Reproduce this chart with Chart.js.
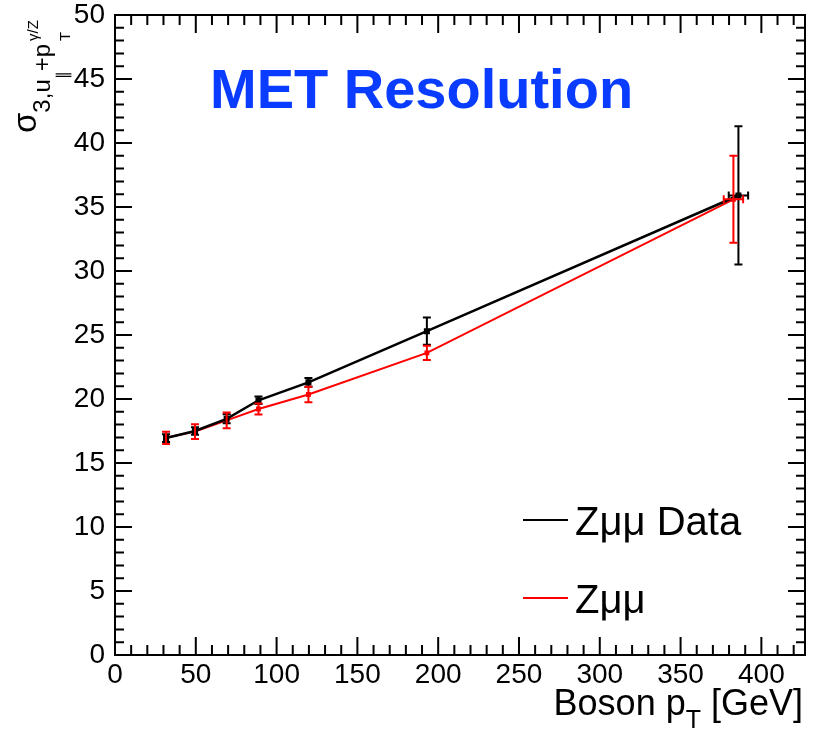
<!DOCTYPE html>
<html>
<head>
<meta charset="utf-8">
<script src="https://cdn.jsdelivr.net/npm/chart.js@4/dist/chart.umd.min.js"></script>
<style>
  html, body { margin: 0; padding: 0; background: #fff; }
  #wrap { width: 821px; height: 734px; }
</style>
</head>
<body>
<div id="wrap"><canvas id="c"></canvas></div>
<script>
// boson pT bin centres (GeV)
const dataX = [31.6, 49.5, 69.1, 88.8, 119.7, 193, 385.8];
const dataY = [16.95, 17.5, 18.45, 19.9, 21.3, 25.3, 35.9];
const dataErr = [0.3, 0.3, 0.35, 0.3, 0.35, 1.07, 5.4];
const dataXErr = [0, 0, 0, 0, 0, 0, 6];

const mcX = [31.6, 49.5, 69.1, 88.8, 119.7, 193, 382.7];
const mcY = [16.97, 17.45, 18.33, 19.22, 20.35, 23.6, 35.6];
const mcErr = [0.48, 0.57, 0.62, 0.43, 0.6, 0.56, 3.4];
const mcXErr = [0, 0, 0, 0, 0, 0, 6];

const xTicks = [0, 50, 100, 150, 200, 250, 300, 350, 400];
const yTicks = [0, 5, 10, 15, 20, 25, 30, 35, 40, 45, 50];

const FONT = '"Liberation Sans", Arial, Helvetica, sans-serif';

function toPoints(xs, ys) {
  return xs.map((x, i) => ({ x: x, y: ys[i] }));
}

const errors = [
  { y: dataErr, x: dataXErr },
  { y: mcErr, x: mcXErr }
];

const errorBars = {
  id: "errorBars",
  afterDatasetsDraw(chart) {
    const ctx = chart.ctx;
    const xs = chart.scales.x;
    const ys = chart.scales.y;
    chart.data.datasets.forEach((ds, di) => {
      const err = errors[di];
      ctx.save();
      ctx.strokeStyle = ds.borderColor;
      ctx.lineWidth = 2;
      ds.data.forEach((p, i) => {
        const px = xs.getPixelForValue(p.x);
        const top = ys.getPixelForValue(p.y + err.y[i]);
        const bot = ys.getPixelForValue(p.y - err.y[i]);
        const py = ys.getPixelForValue(p.y);
        ctx.beginPath();
        ctx.moveTo(px, top);
        ctx.lineTo(px, bot);
        ctx.moveTo(px - 4, top);
        ctx.lineTo(px + 4, top);
        ctx.moveTo(px - 4, bot);
        ctx.lineTo(px + 4, bot);
        if (err.x[i] > 0) {
          const l = xs.getPixelForValue(p.x - err.x[i]);
          const r = xs.getPixelForValue(p.x + err.x[i]);
          ctx.moveTo(l, py);
          ctx.lineTo(r, py);
          ctx.moveTo(l, py - 4);
          ctx.lineTo(l, py + 4);
          ctx.moveTo(r, py - 4);
          ctx.lineTo(r, py + 4);
        }
        ctx.stroke();
      });
      ctx.restore();
    });
  }
};

const frame = {
  id: "frame",
  afterDraw(chart) {
    const ctx = chart.ctx;
    const a = chart.chartArea;
    const xs = chart.scales.x;
    const ys = chart.scales.y;
    ctx.save();
    ctx.strokeStyle = "#000";
    ctx.lineWidth = 2;
    ctx.strokeRect(a.left, a.top, a.right - a.left, a.bottom - a.top);
    ctx.beginPath();
    for (let v = 0; v <= xs.max; v += 10) {
      const px = xs.getPixelForValue(v);
      if (px > a.right - 1) break;
      const len = v % 50 === 0 ? 18 : 10;
      ctx.moveTo(px, a.bottom);
      ctx.lineTo(px, a.bottom - len);
      ctx.moveTo(px, a.top);
      ctx.lineTo(px, a.top + len);
    }
    for (let v = 0; v <= ys.max; v += 1) {
      const py = ys.getPixelForValue(v);
      const len = v % 5 === 0 ? 17 : 9;
      ctx.moveTo(a.left, py);
      ctx.lineTo(a.left + len, py);
      ctx.moveTo(a.right, py);
      ctx.lineTo(a.right - len, py);
    }
    ctx.stroke();

    // title
    ctx.fillStyle = "#0a3cff";
    ctx.font = "bold 56px " + FONT;
    ctx.textBaseline = "alphabetic";
    ctx.textAlign = "left";
    ctx.fillText("MET Resolution", 210, 108);

    // legend
    const items = [
      { y: 520, ds: chart.data.datasets[0] },
      { y: 598, ds: chart.data.datasets[1] }
    ];
    items.forEach(it => {
      ctx.strokeStyle = it.ds.borderColor;
      ctx.lineWidth = 2;
      ctx.beginPath();
      ctx.moveTo(523, it.y);
      ctx.lineTo(568, it.y);
      ctx.stroke();
      ctx.fillStyle = "#000";
      ctx.font = "40px " + FONT;
      ctx.fillText(it.ds.label, 575, it.y + 15);
    });

    // x axis title
    ctx.fillStyle = "#000";
    const big = "36px " + FONT;
    const small = "25px " + FONT;
    ctx.font = big;
    const w1 = ctx.measureText("Boson p").width;
    const w3 = ctx.measureText(" [GeV]").width;
    ctx.font = small;
    const w2 = ctx.measureText("T").width;
    let x = 803 - (w1 + w2 + w3);
    ctx.font = big;
    ctx.fillText("Boson p", x, 715);
    x += w1;
    ctx.font = small;
    ctx.fillText("T", x, 728);
    x += w2;
    ctx.font = big;
    ctx.fillText(" [GeV]", x, 715);

    // y axis title
    ctx.translate(36, 133);
    ctx.rotate(-Math.PI / 2);
    let tx = 0;
    const seg = (t, size, dy) => {
      ctx.font = size + "px " + FONT;
      ctx.fillText(t, tx, dy);
      tx += ctx.measureText(t).width;
    };
    seg("\u03c3", 33, 0);
    seg("3,u", 24, 14);
    seg("\u2225", 16, 32);
    seg("+p", 24, 14);
    const t0 = tx + 3;
    tx = t0;
    seg("T", 15, 34);
    tx = t0;
    seg("\u03b3/Z", 15, 2);
    ctx.restore();
  }
};

new Chart(document.getElementById("c"), {
  type: "line",
  data: {
    datasets: [
      {
        label: "Z\u03bc\u03bc Data",
        data: toPoints(dataX, dataY),
        borderColor: "#000000",
        backgroundColor: "#000000",
        borderWidth: 2.5,
        pointStyle: "rect",
        pointRadius: 2.5,
        tension: 0
      },
      {
        label: "Z\u03bc\u03bc",
        data: toPoints(mcX, mcY),
        borderColor: "#ff0000",
        backgroundColor: "#ff0000",
        borderWidth: 2,
        pointStyle: "rect",
        pointRadius: 2,
        tension: 0
      }
    ]
  },
  options: {
    responsive: true,
    maintainAspectRatio: false,
    animation: false,
    layout: { padding: { top: 15, right: 16, left: 0, bottom: 0 } },
    plugins: {
      legend: { display: false },
      tooltip: { enabled: false }
    },
    scales: {
      x: {
        type: "linear",
        min: 0,
        max: 427,
        grid: { display: false, drawTicks: false },
        border: { display: false },
        afterBuildTicks: s => { s.ticks = xTicks.map(v => ({ value: v })); },
        afterFit: s => { s.height = 79; s.paddingLeft = 0; s.paddingRight = 0; },
        ticks: {
          color: "#000",
          padding: 3,
          maxRotation: 0,
          font: { family: FONT, size: 28 }
        }
      },
      y: {
        min: 0,
        max: 50,
        grid: { display: false, drawTicks: false },
        border: { display: false },
        afterBuildTicks: s => { s.ticks = yTicks.map(v => ({ value: v })); },
        afterFit: s => { s.width = 115; s.paddingTop = 0; s.paddingBottom = 0; },
        ticks: {
          color: "#000",
          padding: 10,
          font: { family: FONT, size: 28 }
        }
      }
    }
  },
  plugins: [errorBars, frame]
});
</script>
</body>
</html>
